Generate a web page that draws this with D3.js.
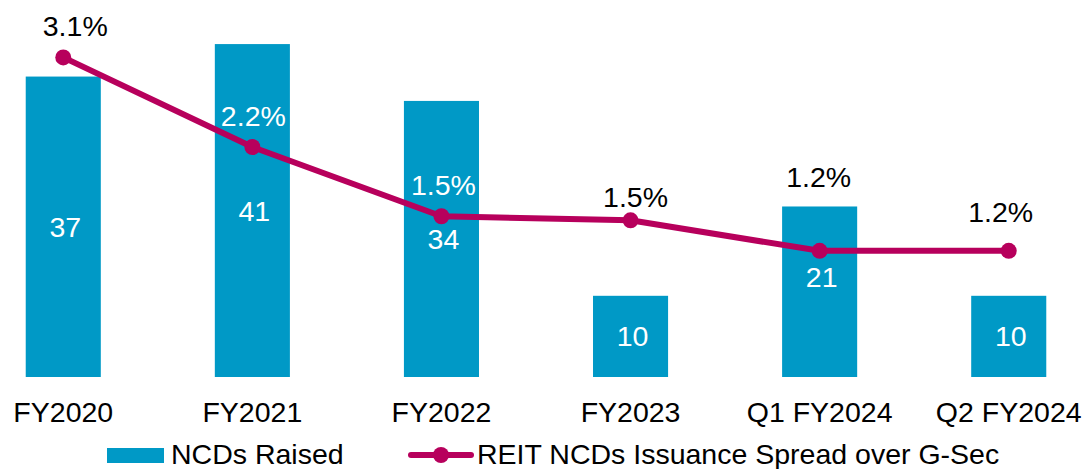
<!DOCTYPE html>
<html>
<head>
<meta charset="utf-8">
<script src="https://cdn.jsdelivr.net/npm/d3@7"></script>
<style>
  html, body { margin: 0; padding: 0; background: #fff; }
  svg { display: block; font-family: "Liberation Sans", Arial, sans-serif; }
</style>
</head>
<body>
<svg id="vis"></svg>
<script>
const BAR_COLOUR = 'rgb(0, 153, 198)';
const LINE_COLOUR = 'rgb(183, 0, 92)';

// chart data
const periods = ['FY2020', 'FY2021', 'FY2022', 'FY2023', 'Q1 FY2024', 'Q2 FY2024'];
const ncdsRaised = [37, 41, 34, 10, 21, 10];
const spread = [3.1, 2.22, 1.54, 1.50, 1.2, 1.2];

// hand placed labels in the original: [dx, dy] from the point / bar middle
const pctNudge = [[12, -21], [1, -21], [2, -21], [5, -13], [-1, -64], [-8, -29]];
const pctInside = [false, true, true, false, false, false];
const barLabelLift = [0, 0, 0, 0, -15, 0];

var width = 1090, height = 469;
var svg = d3.select('#vis').attr('width', width).attr('height', height);

var x = d3.scaleBand().domain(periods).range([-31, 1103]).paddingInner(0.603).paddingOuter(0.3);
var yBar = d3.scaleLinear().domain([0, 45]).range([377, 11.6]);
var yLine = d3.scaleLinear().domain([0, 3.6]).range([373, 6.5]);

var bars = svg.append('g').attr('id', 'bars');
bars.selectAll('rect').data(ncdsRaised).enter().append('rect')
    .attr('x', (d, i) => x(periods[i]))
    .attr('width', x.bandwidth())
    .attr('y', d => yBar(d))
    .attr('height', d => yBar(0) - yBar(d))
    .attr('fill', BAR_COLOUR);

bars.selectAll('text').data(ncdsRaised).enter().append('text')
    .attr('x', (d, i) => x(periods[i]) + x.bandwidth() / 2 + 2)
    .attr('y', (d, i) => (yBar(d) + yBar(0)) / 2 + 10 + barLabelLift[i])
    .attr('text-anchor', 'middle')
    .attr('font-size', '28.5px')
    .attr('fill', '#fff')
    .text(d => d);

// x axis, labels only
var xAxis = svg.append('g').attr('transform', 'translate(0,' + yBar(0) + ')')
    .call(d3.axisBottom(x).tickSize(0).tickPadding(0));
xAxis.select('.domain').remove();
xAxis.selectAll('text')
    .attr('dy', null).attr('y', 45)
    .attr('font-size', '28.5px')
    .attr('font-family', '"Liberation Sans", Arial, sans-serif')
    .attr('fill', '#000');

var cx = (d, i) => x(periods[i]) + x.bandwidth() / 2;

var line = d3.line().x((d, i) => cx(d, i)).y(d => yLine(d));
var lineG = svg.append('g').attr('id', 'spread');
lineG.append('path').datum(spread)
    .attr('d', line)
    .attr('fill', 'none')
    .attr('stroke', LINE_COLOUR)
    .attr('stroke-width', 6)
    .attr('stroke-linejoin', 'round');

lineG.selectAll('circle').data(spread).enter().append('circle')
    .attr('cx', cx)
    .attr('cy', d => yLine(d))
    .attr('r', 8)
    .attr('fill', LINE_COLOUR);

lineG.selectAll('text').data(spread).enter().append('text')
    .attr('x', (d, i) => cx(d, i) + pctNudge[i][0])
    .attr('y', (d, i) => yLine(d) + pctNudge[i][1])
    .attr('text-anchor', 'middle')
    .attr('font-size', '28.5px')
    .attr('fill', (d, i) => pctInside[i] ? '#fff' : '#000')
    .text(d => d.toFixed(1) + '%');

// legend
var legend = svg.append('g').attr('id', 'legend');
legend.append('rect').attr('x', 107).attr('y', 448).attr('width', 57).attr('height', 15).attr('fill', BAR_COLOUR);
legend.append('text').attr('x', 171).attr('y', 464).attr('font-size', '28.5px').text('NCDs Raised');
legend.append('line').attr('x1', 411).attr('x2', 471).attr('y1', 455).attr('y2', 455)
    .attr('stroke', LINE_COLOUR).attr('stroke-width', 6).attr('stroke-linecap', 'round');
legend.append('circle').attr('cx', 441).attr('cy', 455).attr('r', 8).attr('fill', LINE_COLOUR);
legend.append('text').attr('x', 477).attr('y', 464).attr('font-size', '28.5px').text('REIT NCDs Issuance Spread over G-Sec');
</script>
</body>
</html>
